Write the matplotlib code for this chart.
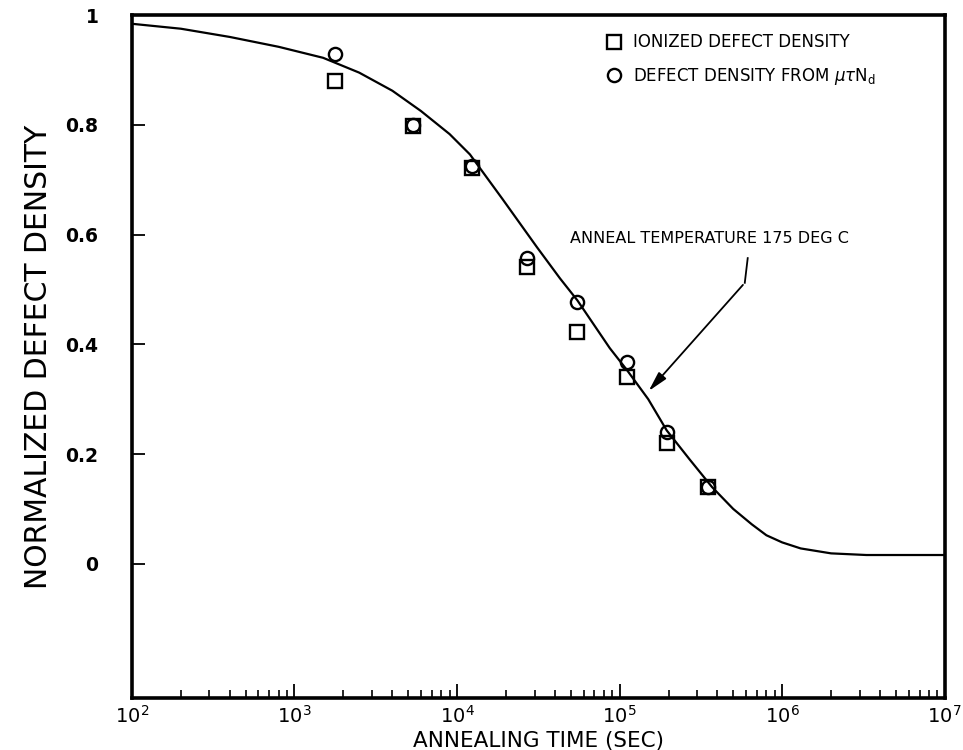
import numpy as np
import matplotlib.pyplot as plt
from matplotlib.ticker import FixedLocator, LogLocator, NullFormatter

# data
time_sec = [1770, 5350, 12300, 26900, 54600, 110700, 195000, 348000]
ionized = [0.880, 0.798, 0.722, 0.541, 0.422, 0.340, 0.220, 0.140]
mutau = [0.929, 0.800, 0.725, 0.557, 0.477, 0.367, 0.240, 0.140]

curve_t = [100, 200, 400, 800, 1500, 2500, 4000, 6000, 9000, 12000, 19000,
           31000, 43000, 55000, 87000, 111000, 150000, 195000, 270000, 370000,
           500000, 650000, 800000, 1e6, 1.3e6, 2e6, 3.3e6, 1e7]
curve_y = [0.984, 0.975, 0.960, 0.942, 0.922, 0.895, 0.862, 0.825, 0.783, 0.746, 0.665,
           0.577, 0.520, 0.480, 0.393, 0.353, 0.300, 0.243, 0.190, 0.140,
           0.100, 0.072, 0.052, 0.039, 0.028, 0.019, 0.016, 0.016]

yticks = [0, 0.2, 0.4, 0.6, 0.8, 1.0]
yticklabels = ['0', '0.2', '0.4', '0.6', '0.8', '1']
xticks = [1e2, 1e3, 1e4, 1e5, 1e6, 1e7]

plt.rcParams['font.family'] = 'DejaVu Sans'
plt.rcParams['mathtext.fontset'] = 'dejavusans'

fig = plt.figure(figsize=(9.63, 7.5), dpi=100)
ax = fig.add_axes([0.137, 0.069, 0.844, 0.911])

ax.plot(curve_t, curve_y, color='black', lw=1.6)
ax.plot(time_sec, ionized, ls='none', marker='s', ms=10, mfc='none', mec='black',
        mew=1.7, label='IONIZED DEFECT DENSITY')
ax.plot(time_sec, mutau, ls='none', marker='o', ms=9.5, mfc='none', mec='black',
        mew=1.7, label=r'DEFECT DENSITY FROM $\mu\tau$N$_\mathregular{d}$')

ax.set_xscale('log')
ax.set_xlim(1e2, 1e7)
ax.set_ylim(-0.245, 1.0)

ax.xaxis.set_major_locator(FixedLocator(xticks))
ax.set_xticklabels([r'10$^\mathregular{%d}$' % int(np.log10(t)) for t in xticks])
ax.xaxis.set_minor_locator(LogLocator(base=10, subs=np.arange(2, 10)))
ax.xaxis.set_minor_formatter(NullFormatter())
ax.set_yticks(yticks)
ax.set_yticklabels(yticklabels)

ax.tick_params(axis='y', which='major', direction='in', length=9, width=1.3,
               labelsize=13.5, right=False, pad=24)
ax.tick_params(axis='x', which='major', direction='in', length=10, width=1.3,
               labelsize=14, top=False, pad=5)
ax.tick_params(axis='x', which='minor', direction='in', length=6, width=1.2, top=False)
for lab in ax.get_yticklabels():
    lab.set_fontweight('bold')
for s in ax.spines.values():
    s.set_linewidth(2.6)

ax.set_xlabel('ANNEALING TIME (SEC)', fontsize=15.5, labelpad=3)
ax.set_ylabel('NORMALIZED DEFECT DENSITY', fontsize=21.5, labelpad=9)

leg = ax.legend(loc='upper left', bbox_to_anchor=(0.565, 0.995), frameon=False,
                fontsize=12, handlelength=1.0, handletextpad=0.6, labelspacing=0.85)

ax.text(4.94e4, 0.593, 'ANNEAL TEMPERATURE 175 DEG C', fontsize=11.5, va='center')
ax.plot([6.14e5, 5.89e5], [0.557, 0.512], color='black', lw=1.3)
ax.annotate('', xy=(1.47e5, 0.311), xytext=(5.89e5, 0.512),
            arrowprops=dict(arrowstyle='-|>,head_length=1.2,head_width=0.3',
                            color='black', lw=1.3))

fig.savefig('out.png', dpi=100)
